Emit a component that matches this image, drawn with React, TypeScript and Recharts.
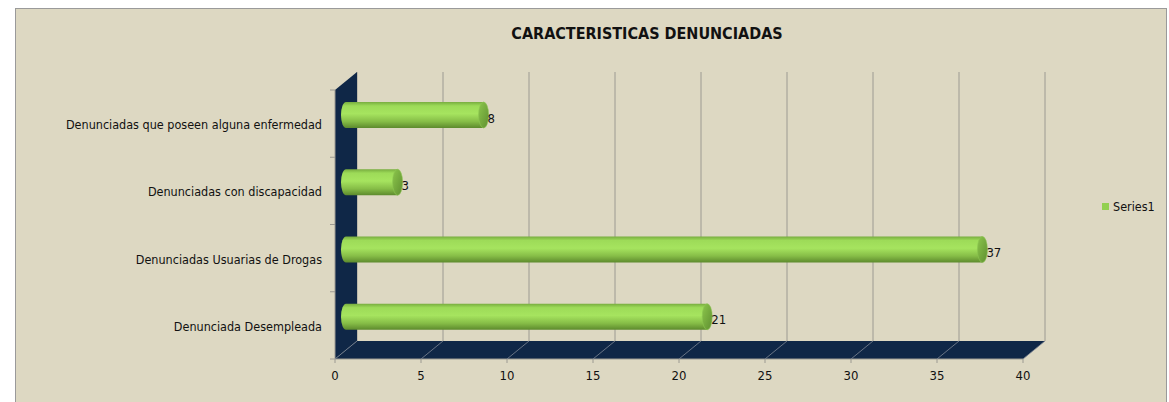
import { Bar, BarChart, CartesianGrid, LabelList, Legend, XAxis, YAxis } from "recharts";

const categories = [
  "Denunciadas que poseen alguna enfermedad",
  "Denunciadas con discapacidad",
  "Denunciadas Usuarias de Drogas",
  "Denunciada Desempleada",
];
const series1 = [8, 3, 37, 21];
const xTicks = [0, 5, 10, 15, 20, 25, 30, 35, 40];

const data = categories.map((name, i) => ({ name, Series1: series1[i] }));

// front plane of the 3d box, in page pixels
const LEFT = 335;
const RIGHT = 1023;
const TOP = 90;
const BOTTOM = 359;
// depth offset of the back plane
const DX = 22;
const DY = -18;

const FONT = '"Liberation Sans Narrow", "Arial Narrow", "DejaVu Sans Condensed", sans-serif';
const WALL = "#0f2747";
const EDGE = "#9c9a92";

function Walls() {
  const band = (BOTTOM - TOP) / categories.length;
  const marks = [];
  for (let i = 0; i <= categories.length; i++) marks.push(TOP + i * band);
  return (
    <g>
      <polygon
        points={`${LEFT},${TOP} ${LEFT + DX},${TOP + DY} ${LEFT + DX},${BOTTOM + DY} ${LEFT},${BOTTOM}`}
        fill={WALL}
      />
      <polygon
        points={`${LEFT},${BOTTOM} ${LEFT + DX},${BOTTOM + DY} ${RIGHT + DX},${BOTTOM + DY} ${RIGHT},${BOTTOM}`}
        fill={WALL}
      />
      <line x1={LEFT} y1={TOP} x2={LEFT} y2={BOTTOM} stroke={EDGE} />
      <line x1={LEFT} y1={BOTTOM} x2={RIGHT} y2={BOTTOM} stroke={EDGE} />
      {marks.map((m) => (
        <line key={m} x1={LEFT - 5} y1={m} x2={LEFT} y2={m} stroke={EDGE} />
      ))}
    </g>
  );
}

function Cylinder(props: any) {
  const { x, y, width, height } = props;
  if (!height) return null;
  const x0 = x + DX / 2;
  const y0 = y + DY / 2;
  const x1 = x0 + width;
  const rx = 5;
  const ry = height / 2;
  const d = `M${x1},${y0} L${x0},${y0} A${rx},${ry} 0 0 0 ${x0},${y0 + height} L${x1},${y0 + height} Z`;
  return (
    <g>
      <path d={d} fill="url(#cylBody)" />
      <ellipse cx={x1} cy={y0 + ry} rx={rx} ry={ry} fill="url(#cylCap)" stroke="#8cc450" strokeWidth={0.6} />
    </g>
  );
}

function ValueLabel(props: any) {
  const { x, y, width, height, value } = props;
  return (
    <text
      x={x + width + DX / 2 + 4}
      y={y + height / 2 + DY / 2 + 3}
      dominantBaseline="central"
      fontSize={13}
      fontFamily={FONT}
      fill="#111"
    >
      {value}
    </text>
  );
}

function CategoryTick(props: any) {
  const { y, payload } = props;
  return (
    <text x={LEFT - 13} y={y + 1} textAnchor="end" dominantBaseline="central" fontSize={12.5} fontFamily={FONT} fill="#111">
      {payload.value}
    </text>
  );
}

function ValueTick(props: any) {
  const { x, payload } = props;
  return (
    <g>
      <line x1={x} y1={BOTTOM} x2={x + DX} y2={BOTTOM + DY} stroke="#7d8694" strokeWidth={0.8} />
      <line x1={x} y1={BOTTOM} x2={x} y2={BOTTOM + 4} stroke={EDGE} />
      <text x={x} y={BOTTOM + 16} textAnchor="middle" dominantBaseline="central" fontSize={13} fontFamily={FONT} fill="#111">
        {payload.value}
      </text>
    </g>
  );
}

function LegendBox() {
  return (
    <div style={{ display: "flex", alignItems: "center", width: 60, fontFamily: FONT, fontSize: 12.5, color: "#111" }}>
      <span style={{ width: 7, height: 7, background: "#92d050", marginRight: 4 }} />
      Series1
    </div>
  );
}

const backGrid = ({ xAxis }: any) => {
  const s = xAxis?.scale;
  const f = typeof s === "function" ? s : (v: number) => s.map(v);
  return xTicks.map((t) => f(t) + DX);
};

export default function App() {
  return (
    <div style={{ position: "absolute", left: 0, top: 0, width: 1169, height: 402, overflow: "hidden", background: "#fff" }}>
      <div
        style={{
          position: "absolute",
          left: 15,
          top: 8,
          width: 1150,
          height: 400,
          background: "#ddd8c2",
          border: "1px solid #9a9a9a",
        }}
      />
      <div
        style={{
          position: "absolute",
          left: 447,
          top: 24,
          width: 400,
          textAlign: "center",
          fontFamily: FONT,
          fontWeight: "bold",
          fontSize: 16,
          color: "#111",
        }}
      >
        CARACTERISTICAS DENUNCIADAS
      </div>
      <div style={{ position: "absolute", left: 0, top: 0 }}>
        <BarChart
          width={1169}
          height={402}
          data={data}
          layout="vertical"
          margin={{ top: TOP, right: 1169 - RIGHT - 60, bottom: 0, left: 0 }}
          barSize={26}
        >
          <defs>
            <linearGradient id="cylBody" x1="0" y1="0" x2="0" y2="1">
              <stop offset="0" stopColor="#78ad3f" />
              <stop offset="0.15" stopColor="#9ddb58" />
              <stop offset="0.45" stopColor="#a6e45f" />
              <stop offset="0.75" stopColor="#86bd47" />
              <stop offset="1" stopColor="#5d8a2d" />
            </linearGradient>
            <linearGradient id="cylCap" x1="0" y1="0" x2="1" y2="1">
              <stop offset="0" stopColor="#8cc64c" />
              <stop offset="1" stopColor="#5f8f30" />
            </linearGradient>
          </defs>
          <Walls />
          <CartesianGrid
            horizontal={false}
            y={TOP + DY}
            height={BOTTOM - TOP}
            stroke={EDGE}
            strokeWidth={1}
            verticalCoordinatesGenerator={backGrid}
          />
          <XAxis
            type="number"
            domain={[0, 40]}
            ticks={xTicks}
            height={402 - BOTTOM}
            axisLine={false}
            tickLine={false}
            tickSize={0}
            tick={<ValueTick />}
          />
          <YAxis
            type="category"
            dataKey="name"
            width={LEFT}
            axisLine={false}
            tickLine={false}
            tick={<CategoryTick />}
          />
          <Legend
            layout="vertical"
            align="right"
            verticalAlign="middle"
            content={<LegendBox />}
            wrapperStyle={{ left: 1102, top: 199, width: 60 }}
          />
          <Bar dataKey="Series1" fill="#92d050" shape={<Cylinder />} isAnimationActive={false}>
            <LabelList dataKey="Series1" content={<ValueLabel />} />
          </Bar>
        </BarChart>
      </div>
    </div>
  );
}
